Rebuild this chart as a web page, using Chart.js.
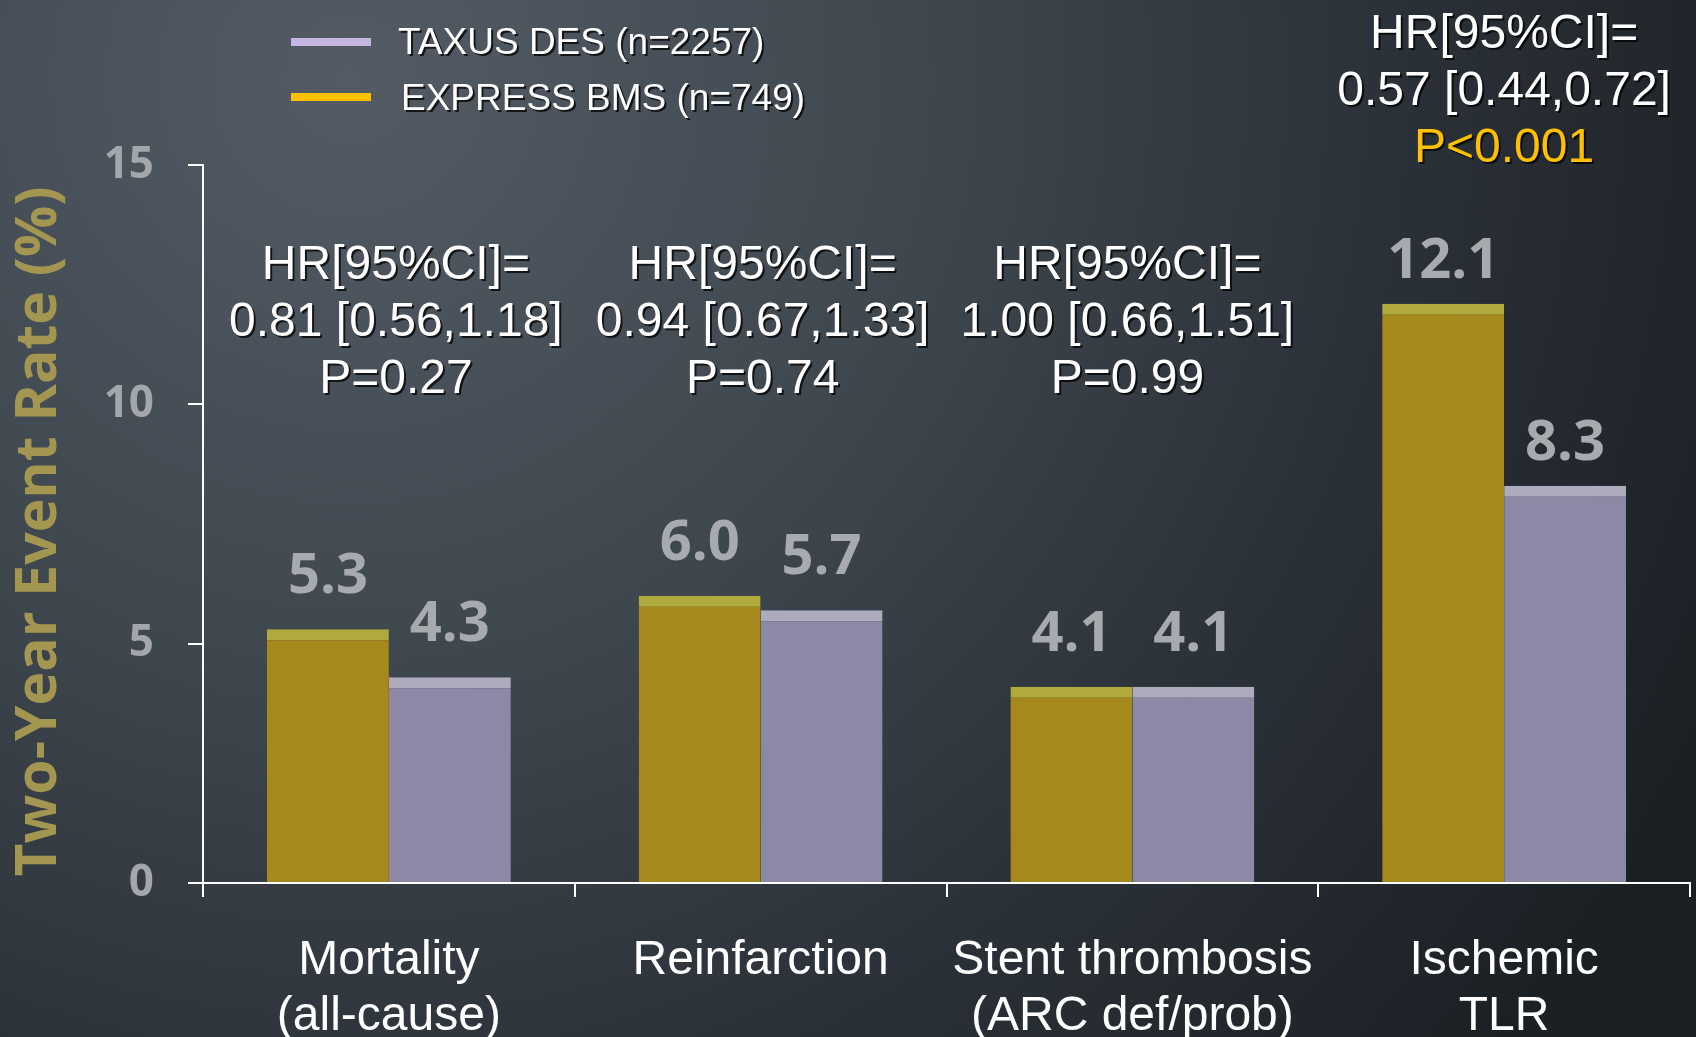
<!DOCTYPE html>
<html>
<head>
<meta charset="utf-8">
<script src="https://cdn.jsdelivr.net/npm/chart.js"></script>
<style>
  html, body { margin: 0; padding: 0; background: #2e353c; }
  #wrap { width: 1696px; height: 1037px; }
</style>
</head>
<body>
<div id="wrap"><canvas id="chart" width="1696" height="1037"></canvas></div>
<script>
// chart data
const categories = [["Mortality", "(all-cause)"], "Reinfarction", ["Stent thrombosis", "(ARC def/prob)"], ["Ischemic", "TLR"]];
const expressBms = [5.3, 6.0, 4.1, 12.1];
const taxusDes = [4.3, 5.7, 4.1, 8.3];
const yTicks = [0, 5, 10, 15];
const hrLines = [
    ["HR[95%CI]=", "0.81 [0.56,1.18]"],
    ["HR[95%CI]=", "0.94 [0.67,1.33]"],
    ["HR[95%CI]=", "1.00 [0.66,1.51]"],
    ["HR[95%CI]=", "0.57 [0.44,0.72]"]
];
const pValues = ["P=0.27", "P=0.74", "P=0.99", "P<0.001"];

const ARIAL = "'Liberation Sans', Arial, sans-serif";
const CALIBRI = "'Open Sans', 'DejaVu Sans', sans-serif";

// background gradient
const bgPlugin = {
    id: "bg",
    beforeDraw(chart) {
        const c = chart.ctx;
        const g = c.createRadialGradient(350, 80, 0, 350, 80, 1500);
        g.addColorStop(0, "#535c65");
        g.addColorStop(0.4, "#3e464e");
        g.addColorStop(0.7, "#2b3138");
        g.addColorStop(1, "#1b2025");
        c.save();
        c.fillStyle = g;
        c.fillRect(0, 0, chart.width, chart.height);
        c.restore();
    }
};

function shadowText(c, txt, x, y, color) {
    c.fillStyle = "rgba(0,0,0,0.75)";
    c.fillText(txt, x + 2, y + 2);
    c.fillStyle = color;
    c.fillText(txt, x, y);
}

// value labels, HR notes and legend
const notesPlugin = {
    id: "notes",
    afterDraw(chart) {
        const c = chart.ctx;
        const xs = chart.scales.x;
        const top = chart.chartArea.top;
        c.save();

        // numbers above bars
        c.font = "bold 56px " + CALIBRI;
        c.textAlign = "center";
        c.textBaseline = "alphabetic";
        c.fillStyle = "#a7aaaf";
        chart.data.datasets.forEach((ds, di) => {
            chart.getDatasetMeta(di).data.forEach((bar, i) => {
                const gap = i === 3 ? 26 : 36;
                c.fillText(ds.data[i].toFixed(1), bar.x, bar.y - gap);
            });
        });

        // HR annotations
        const dx = [7, 2, -5, 0];
        c.font = "48px " + ARIAL;
        c.textBaseline = "middle";
        hrLines.forEach((lines, i) => {
            const cx = xs.getPixelForValue(i) + dx[i];
            const y0 = i === 3 ? 35 : top + 101;
            shadowText(c, lines[0], cx, y0, "#ffffff");
            shadowText(c, lines[1], cx, y0 + 57, "#ffffff");
            shadowText(c, pValues[i], cx, y0 + 114, i === 3 ? "#ffc000" : "#ffffff");
        });

        // legend (TAXUS first)
        const legend = [
            { label: chart.data.datasets[1].label, color: "#c5b5e0", y: 42, ty: 44, tx: 398 },
            { label: chart.data.datasets[0].label, color: "#ffc000", y: 97, ty: 100, tx: 401 }
        ];
        c.font = "37px " + ARIAL;
        c.textAlign = "left";
        legend.forEach(item => {
            c.fillStyle = item.color;
            c.fillRect(291, item.y - 4, 80, 8);
            shadowText(c, item.label, item.tx, item.ty, "#ffffff");
        });

        c.restore();
    }
};

new Chart(document.getElementById("chart"), {
    type: "bar",
    data: {
        labels: categories,
        datasets: [
            {
                label: "EXPRESS BMS (n=749)",
                data: expressBms,
                backgroundColor: "#a5891d",
                borderColor: "#b0aa3c",
                borderWidth: { top: 11, left: 0, right: 0, bottom: 0 }
            },
            {
                label: "TAXUS DES (n=2257)",
                data: taxusDes,
                backgroundColor: "#8c88a6",
                borderColor: "#aeabbc",
                borderWidth: { top: 11, left: 0, right: 0, bottom: 0 }
            }
        ]
    },
    options: {
        responsive: false,
        devicePixelRatio: 1,
        animation: false,
        categoryPercentage: 0.656,
        barPercentage: 1,
        layout: { padding: { top: 165, right: 6, left: 0, bottom: 0 } },
        plugins: {
            legend: { display: false },
            tooltip: { enabled: false }
        },
        scales: {
            x: {
                grid: { offset: true, drawOnChartArea: false, color: "#ffffff", lineWidth: 2, tickLength: 14 },
                border: { color: "#ffffff", width: 2 },
                ticks: {
                    color: "#ffffff",
                    font: { family: ARIAL, size: 48, lineHeight: 1.18 },
                    padding: 35,
                    maxRotation: 0,
                    autoSkip: false
                },
                afterFit(s) { s.height = 154; }
            },
            y: {
                min: 0,
                max: 15,
                afterBuildTicks(s) { s.ticks = yTicks.map(v => ({ value: v })); },
                grid: { drawOnChartArea: false, color: "#ffffff", lineWidth: 2, tickLength: 15 },
                border: { color: "#ffffff", width: 2 },
                ticks: {
                    color: "#a3a6ab",
                    font: { family: CALIBRI, weight: "bold", size: 44 },
                    padding: 34
                },
                title: {
                    display: true,
                    text: "Two-Year Event Rate (%) ",
                    color: "#a39651",
                    font: { family: CALIBRI, weight: "bold", size: 57, lineHeight: 1 },
                    padding: { top: 11, bottom: 0 }
                },
                afterFit(s) { s.width = 203; }
            }
        }
    },
    plugins: [bgPlugin, notesPlugin]
});
</script>
</body>
</html>
